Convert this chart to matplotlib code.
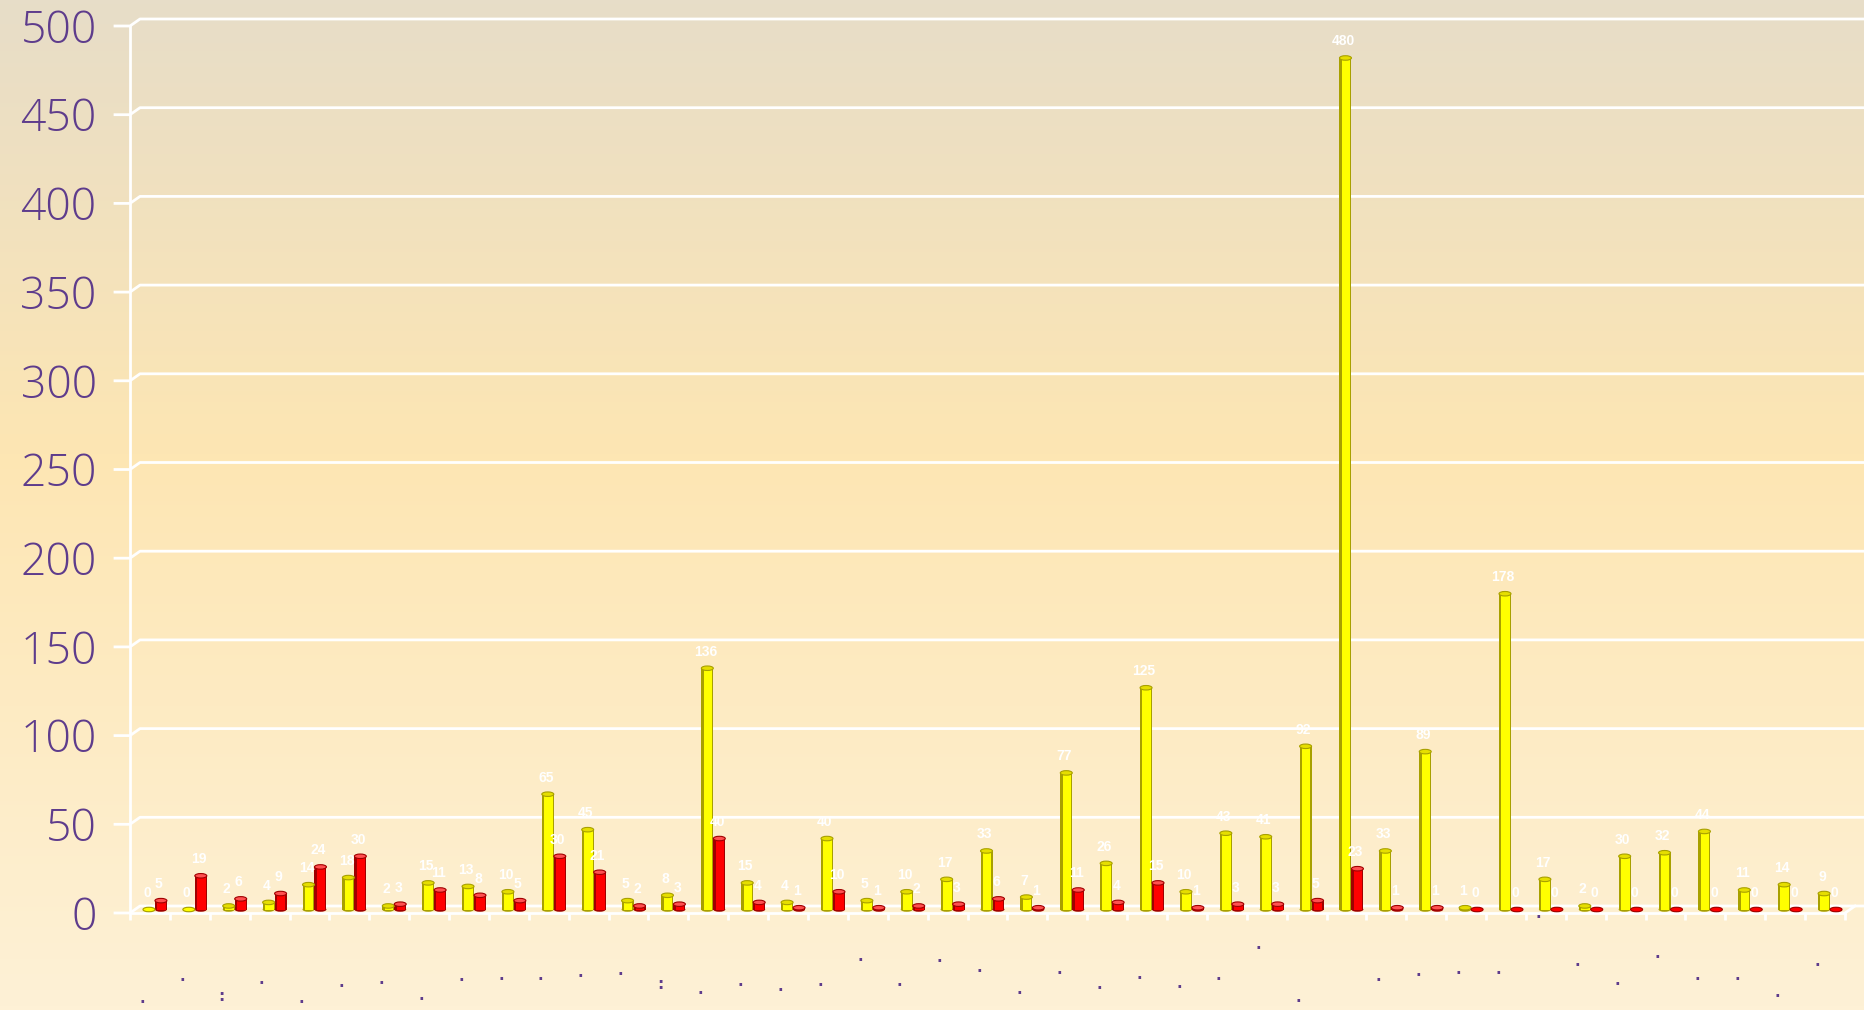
import numpy as np
import matplotlib.pyplot as plt
from matplotlib.patches import Ellipse
from matplotlib.transforms import ScaledTranslation
from matplotlib.colors import LinearSegmentedColormap

# data
serie_amarela = [0, 0, 2, 4, 14, 18, 2, 15, 13, 10, 65, 45, 5, 8, 136, 15, 4, 40, 5, 10,
                 17, 33, 7, 77, 26, 125, 10, 43, 41, 92, 480, 33, 89, 1, 178, 17, 2, 30, 32, 44,
                 11, 14, 9]
serie_vermelha = [5, 19, 6, 9, 24, 30, 3, 11, 8, 5, 30, 21, 2, 3, 40, 4, 1, 10, 1, 2,
                  3, 6, 1, 11, 4, 15, 1, 3, 3, 5, 23, 1, 1, 0, 0, 0, 0, 0, 0, 0,
                  0, 0, 0]
categorias = ['.', '.', ':', '.', '.', '.', '.', '.', '.', '.', '.', '.', '.', ':', '.', '.', '.', '.', '.', '.',
              '.', '.', '.', '.', '.', '.', '.', '.', '.', '.', '', '.', '.', '.', '.', '.', '.', '.', '.', '.',
              '.', '.', '.']
yticks = list(range(0, 501, 50))

# layout: how far (px) each category label hangs below the floor
queda = [88, 66, 86, 69, 88, 72, 69, 85, 66, 65, 65, 62, 60, 74, 79, 71, 76, 71, 46, 71,
         47, 57, 79, 59, 74, 64, 73, 65, 34, 87, 0, 66, 61, 59, 59, 3, 51, 70, 43, 65,
         65, 82, 51]

roxo = '#5E3C8C'
fig = plt.figure(figsize=(18.64, 10.10), dpi=100)

# background gradient
bg = fig.add_axes([0, 0, 1, 1], zorder=-10)
bg.axis('off')
cmap = LinearSegmentedColormap.from_list('fundo', [(0, '#E7DDC8'), (0.45, '#FDE6B3'), (1, '#FEF1D6')])
bg.imshow(np.linspace(0, 1, 256)[:, None], aspect='auto', cmap=cmap, extent=[0, 1, 0, 1])

ax = fig.add_axes([130 / 1864, 97 / 1010, 1715 / 1864, 887 / 1010])
ax.patch.set_alpha(0)
ax.set_xlim(-0.5, len(serie_amarela) - 0.5)
ax.set_ylim(0, 500)

W = ax.bbox.width
H = ax.bbox.height
px = 500 / H  # data units per pixel
dxf = 10 / W
dyv = 7 * px

# back wall grid with the 3D kink
ytr = ax.get_yaxis_transform()
for v in yticks:
    ax.plot([-15 / W, 0, dxf, 1.05], [v, v, v + dyv, v + dyv], transform=ytr,
            color='white', lw=2, clip_on=False, zorder=1)
ax.plot([1, 1 + dxf], [0, dyv], transform=ytr, color='white', lw=2, clip_on=False, zorder=1)

for s in ['top', 'right']:
    ax.spines[s].set_visible(False)
for s in ['left', 'bottom']:
    ax.spines[s].set_color('white')
    ax.spines[s].set_linewidth(2)
    ax.spines[s].set_zorder(1)

ax.set_yticks(yticks)
ax.set_yticklabels([str(v) for v in yticks])
ax.tick_params(axis='y', length=0, pad=24, labelsize=32, labelcolor=roxo)
for t in ax.get_yticklabels():
    t.set_fontfamily(['Open Sans', 'DejaVu Sans'])
    t.set_fontweight('light')
ax.set_xticks(np.arange(-0.5, len(serie_amarela), 1))
ax.tick_params(axis='x', length=5, width=2, color='white', labelbottom=False)

# cylinders, shifted half way into the depth
tr_bar = ax.transData + ScaledTranslation(5 / 100, 3.5 / 100, fig.dpi_scale_trans)
x = np.arange(len(serie_amarela))
w = 0.3
cores = [(serie_amarela, x - 0.15, '#FFFF00', '#A8A000', '#E6DE00'),
         (serie_vermelha, x + 0.15, '#FF0000', '#A00000', '#FF5050')]
for vals, xs, cor, escura, topo in cores:
    for xi, v in zip(xs, vals):
        e = Ellipse((xi, 0), w, 4.5 * px, facecolor=escura, edgecolor='none', zorder=3)
        e.set_transform(tr_bar)
        ax.add_patch(e)
    b1 = ax.bar(xs, vals, width=w, color=escura, zorder=3)
    b2 = ax.bar(xs + 0.015, vals, width=w * 0.72, color=cor, zorder=3)
    for b in list(b1) + list(b2):
        b.set_transform(tr_bar)
    for xi, v in zip(xs, vals):
        e = Ellipse((xi, v), w, 4.5 * px, facecolor=topo if v > 0 else cor,
                    edgecolor=escura, lw=0.8, zorder=4)
        e.set_transform(tr_bar)
        ax.add_patch(e)
    for xi, v in zip(xs, vals):
        ax.annotate(str(v), xy=(xi, v), xytext=(3, 20), textcoords='offset pixels',
                    ha='center', va='center', color='white', fontsize=10,
                    fontweight='bold', family='Liberation Sans', zorder=5,
                    annotation_clip=False)

# category labels (render as dots)
for i, (lab, d) in enumerate(zip(categorias, queda)):
    if not lab:
        continue
    ax.annotate(lab, xy=(i, 0), xycoords=('data', 'axes fraction'), xytext=(-8, -d - 2),
                textcoords='offset pixels', ha='center', va='baseline', color=roxo,
                fontsize=11, fontweight='bold', annotation_clip=False)

fig.savefig('out.png', dpi=100)
